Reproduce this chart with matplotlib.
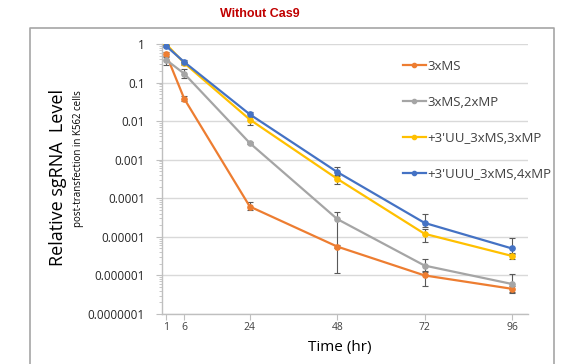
import matplotlib
matplotlib.use("Agg")
import matplotlib.pyplot as plt
from matplotlib.lines import Line2D
from matplotlib.ticker import FixedLocator, FixedFormatter, LogLocator, NullFormatter

plt.rcParams['font.family'] = ['Open Sans', 'DejaVu Sans']

# 시간 (hr)
hours = [1, 6, 24, 48, 72, 96]

labels = ["3xMS", "3xMS,2xMP", "+3'UU_3xMS,3xMP", "+3'UUU_3xMS,4xMP"]
colors = ["#ED7D31", "#A5A5A5", "#FFC000", "#4472C4"]

ms3 = [0.55, 0.038, 6.1e-5, 5.6e-6, 1.0e-6, 4.5e-7]
ms3_mp2 = [0.39, 0.17, 0.0027, 2.9e-5, 1.8e-6, 6.0e-7]
uu_ms3_mp3 = [1.0, 0.32, 0.011, 3.2e-4, 1.2e-5, 3.2e-6]
uuu_ms3_mp4 = [0.89, 0.34, 0.015, 4.8e-4, 2.3e-5, 5.0e-6]

# 오차 막대 하한/상한 (절대값)
ms3_lo = [0.48, 0.033, 5.0e-5, 5.0e-6, 5.2e-7, 3.8e-7]
ms3_hi = [0.62, 0.044, 8.0e-5, 6.2e-6, 1.3e-6, 5.2e-7]
ms3_mp2_lo = [0.28, 0.13, 0.0025, 1.15e-6, 1.2e-6, 3.5e-7]
ms3_mp2_hi = [0.45, 0.22, 0.0029, 4.5e-5, 2.7e-6, 1.1e-6]
uu_lo = [0.95, 0.29, 0.008, 2.3e-4, 7.3e-6, 2.6e-6]
uu_hi = [1.05, 0.35, 0.013, 3.8e-4, 1.6e-5, 3.8e-6]
uuu_lo = [0.85, 0.30, 0.013, 4.0e-4, 1.8e-5, 3.5e-6]
uuu_hi = [0.93, 0.38, 0.017, 6.4e-4, 4.0e-5, 9.6e-6]

series = [ms3, ms3_mp2, uu_ms3_mp3, uuu_ms3_mp4]
lows = [ms3_lo, ms3_mp2_lo, uu_lo, uuu_lo]
highs = [ms3_hi, ms3_mp2_hi, uu_hi, uuu_hi]

ytick_vals = [1, 0.1, 0.01, 0.001, 0.0001, 0.00001, 0.000001, 0.0000001]
ytick_labels = ["1", "0.1", "0.01", "0.001", "0.0001", "0.00001", "0.000001", "0.0000001"]

AXIS_COLOR = "#BFBFBF"
GRID_COLOR = "#D9D9D9"
ERR_COLOR = "#595959"

fig = plt.figure(figsize=(5.67, 3.64), dpi=100)
ax = fig.add_axes([162.4 / 567, 1 - 314 / 364, (528 - 162.4) / 567, 270 / 364])

handles = []
for vals, lo, hi, col, lab in zip(series, lows, highs, colors, labels):
    err = [[v - l for v, l in zip(vals, lo)], [h - v for v, h in zip(vals, hi)]]
    ax.errorbar(hours, vals, yerr=err, fmt="none", ecolor=ERR_COLOR,
                elinewidth=0.8, capsize=2, capthick=0.8, zorder=2)
    line, = ax.plot(hours, vals, color=col, lw=1.6, marker="o", ms=3.8,
                    label=lab, zorder=3)
    handles.append(line)

ax.set_yscale("log")
ax.set_ylim(1e-7, 1)
ax.set_xlim(0, 100.4)
ax.yaxis.set_major_locator(FixedLocator(ytick_vals))
ax.yaxis.set_major_formatter(FixedFormatter(ytick_labels))
ax.yaxis.set_minor_locator(LogLocator(base=10, subs=range(2, 10), numticks=20))
ax.yaxis.set_minor_formatter(NullFormatter())
ax.set_xticks(hours)
ax.set_xticklabels([str(h) for h in hours])

ax.grid(axis="y", which="major", color=GRID_COLOR, lw=1)
ax.set_axisbelow(True)
for side in ("top", "right"):
    ax.spines[side].set_visible(False)
for side in ("left", "bottom"):
    ax.spines[side].set_color(AXIS_COLOR)
    ax.spines[side].set_linewidth(1)

ax.tick_params(axis="y", which="major", length=4, color=AXIS_COLOR, pad=8.5,
               labelsize=8.5, labelcolor="#262626")
ax.tick_params(axis="y", which="minor", length=2.5, color=AXIS_COLOR)
ax.tick_params(axis="x", length=4, color=AXIS_COLOR, pad=2,
               labelsize=7.5, labelcolor="#404040")

ax.legend(handles=handles, loc="upper left", bbox_to_anchor=(0.639, 0.967),
          frameon=False, fontsize=9.5, borderpad=0, labelspacing=1.75,
          handlelength=1.75, handletextpad=0.1, markerscale=0.8,
          labelcolor="#404040")

fig.text(260 / 567, 1 - 14 / 364, "Without Cas9", ha="center", va="center",
         color="#C00000", fontsize=9, fontweight="bold",
         family=["Liberation Sans", "DejaVu Sans"])
fig.text(58 / 567, 1 - 178 / 364, "Relative sgRNA  Level", rotation=90,
         ha="center", va="center", fontsize=13, color="#000000")
fig.text(78 / 567, 1 - 159 / 364, "post-transfection in K562 cells", rotation=90,
         ha="center", va="center", fontsize=7, color="#000000")
fig.text(340 / 567, 1 - 348 / 364, "Time (hr)", ha="center", va="center",
         fontsize=11, color="#000000")

# 차트 테두리 (Excel 차트 영역)
frame_x = [30 / 567, 30 / 567, 554 / 567, 554 / 567]
frame_y = [0, 1 - 28 / 364, 1 - 28 / 364, 0]
fig.add_artist(Line2D(frame_x, frame_y, transform=fig.transFigure,
                      color="#A6A6A6", lw=1.2))

fig.savefig("out.png", dpi=100)
